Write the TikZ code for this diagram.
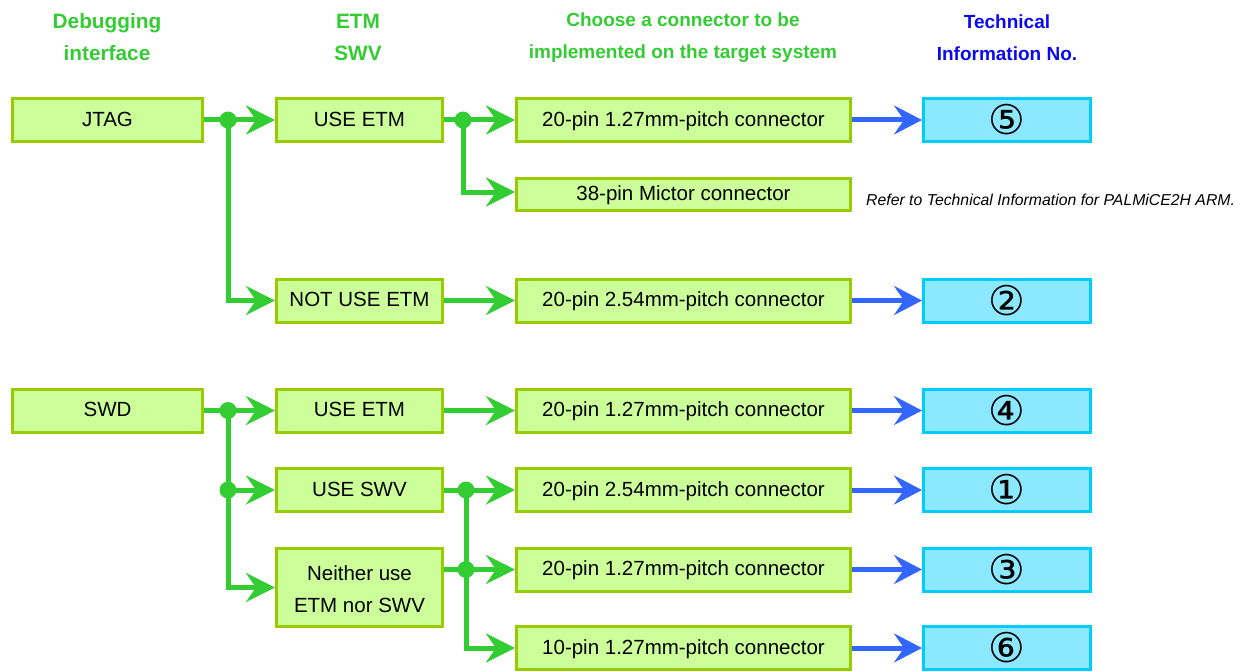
\documentclass[tikz,border=0pt]{standalone}
\usepackage{fontspec}
\setmainfont{Liberation Sans}
\newfontfamily\circfont{DejaVu Sans}
\usetikzlibrary{arrows.meta}

\definecolor{headgreen}{RGB}{51,204,51}
\definecolor{headblue}{RGB}{10,10,240}
\definecolor{boxfill}{RGB}{204,255,153}
\definecolor{boxline}{RGB}{153,204,0}
\definecolor{infofill}{RGB}{140,232,255}
\definecolor{infoline}{RGB}{0,204,255}
\definecolor{linegreen}{RGB}{51,204,51}
\definecolor{lineblue}{RGB}{51,102,255}

\begin{document}
\begin{tikzpicture}[x=1pt, y=-1pt,
   choice/.style={draw=boxline, fill=boxfill, line width=3pt, inner sep=0pt,
                  minimum height=43pt, align=center,
                  text height=14.8pt, text depth=2.1pt,
                  font=\fontsize{20.5}{32}\selectfont},
   iface/.style={choice, minimum width=190pt},
   opt/.style={choice, minimum width=166pt},
   conn/.style={choice, minimum width=334pt},
   info/.style={choice, draw=infoline, fill=infofill, minimum width=167pt,
                text height=, text depth=,
                font=\circfont\fontsize{41}{41}\selectfont},
   head/.style={align=center, text=headgreen, inner sep=0pt,
                font=\bfseries\fontsize{19}{32}\selectfont},
   bighead/.style={head, font=\bfseries\fontsize{20.8}{32}\selectfont},
   garrow/.style={draw=linegreen, line width=5pt,
                  -{Stealth[length=29pt, width=29pt, inset=10pt]}},
   barrow/.style={draw=lineblue, line width=5pt,
                  -{Stealth[length=28pt, width=29pt, inset=10pt]}},
   dot/.style={fill=linegreen, circle, inner sep=0pt, minimum size=17pt}]

\useasboundingbox (0,0) rectangle (1249,671);

% column titles
\node[bighead] (t1) at (107,37) {Debugging\\interface};
\node[bighead] (t2) at (358,37) {ETM\\SWV};
\node[head] (t3) at (683,38) {Choose a connector to be\\implemented on the target system};
\node[head, text=headblue] (t4) at (1007,38) {Technical\\Information No.};

% JTAG
\node[iface] (jtag) at (107.5,120) {JTAG};
\node[opt] (etma) at (359.5,120) {USE ETM};
\node[opt] (noetm) at (359.5,300.5) {NOT USE ETM};
\node[conn] (c20a) at (683.5,120) {20-pin 1.27mm-pitch connector};
\node[conn, minimum height=31pt] (c38) at (683.5,194.5) {38-pin Mictor connector};
\node[conn] (c20b) at (683.5,300.5) {20-pin 2.54mm-pitch connector};
\node[info] (n5) at (1007,120) {⑤};
\node[info] (n2) at (1007,300.5) {②};
\node[anchor=west, inner sep=0pt, font=\itshape\fontsize{15.8}{18}\selectfont]
   (ref) at (866,200) {Refer to Technical Information for PALMiCE2H ARM.};

% SWD
\node[iface] (swd) at (107.5,410.5) {SWD};
\node[opt] (etmb) at (359.5,410.5) {USE ETM};
\node[opt] (swv) at (359.5,490) {USE SWV};
\node[opt, minimum height=78pt, text height=49pt, text depth=0pt] (neither)
   at (359.5,587.5) {Neither use\\ETM nor SWV};
\node[conn] (c20c) at (683.5,410.5) {20-pin 1.27mm-pitch connector};
\node[conn] (c20d) at (683.5,490) {20-pin 2.54mm-pitch connector};
\node[conn] (c20e) at (683.5,569.5) {20-pin 1.27mm-pitch connector};
\node[conn] (c10) at (683.5,648) {10-pin 1.27mm-pitch connector};
\node[info] (n4) at (1007,410.5) {④};
\node[info] (n1) at (1007,490) {①};
\node[info] (n3) at (1007,569.5) {③};
\node[info] (n6) at (1007,648) {⑥};

% junctions
\coordinate (ja) at (228,120);
\coordinate (jb) at (463,120);
\coordinate (jc) at (228,410.5);
\coordinate (jd) at (228,490);
\coordinate (je) at (466,490);
\coordinate (jf) at (466,569.5);

% green branches
\draw[garrow] (jtag.east) -- (etma.west);
\draw[garrow] (ja) |- (noetm.west);
\draw[garrow] (etma.east) -- (c20a.west);
\draw[garrow] (jb) |- ([yshift=2.5pt]c38.west);
\draw[garrow] (noetm.east) -- (c20b.west);
\draw[garrow] (swd.east) -- (etmb.west);
\draw[garrow] (jc) |- (neither.west);
\draw[garrow] (jd) -- (swv.west);
\draw[garrow] (etmb.east) -- (c20c.west);
\draw[garrow] (swv.east) -- (c20d.west);
\draw[garrow] (je) |- (c10.west);
\draw[garrow] (neither.east |- jf) -- (c20e.west);
\foreach \j in {ja,jb,jc,jd,je,jf}
   \node[dot] at (\j) {};

% blue arrows
\draw[barrow] (c20a.east) -- (n5.west);
\draw[barrow] (c20b.east) -- (n2.west);
\draw[barrow] (c20c.east) -- (n4.west);
\draw[barrow] (c20d.east) -- (n1.west);
\draw[barrow] (c20e.east) -- (n3.west);
\draw[barrow] (c10.east) -- (n6.west);

\end{tikzpicture}
\end{document}
